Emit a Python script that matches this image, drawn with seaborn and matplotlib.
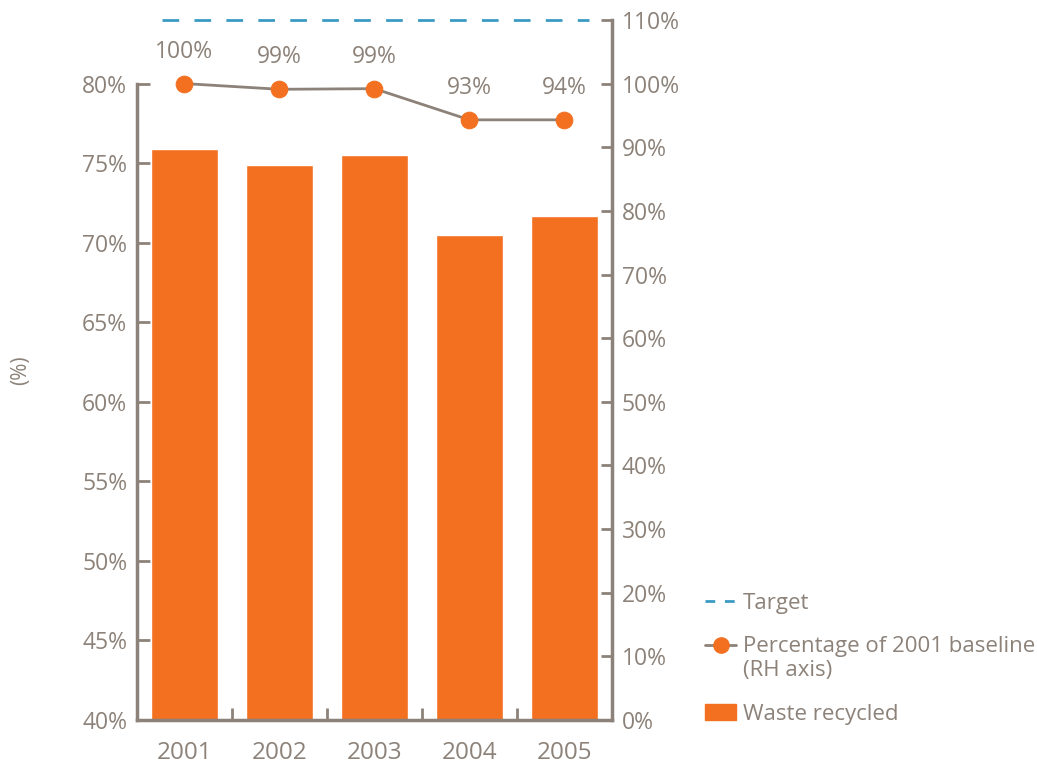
import matplotlib
matplotlib.use("Agg")
import matplotlib.pyplot as plt
import numpy as np
import pandas as pd
import seaborn as sns
from matplotlib.lines import Line2D
from matplotlib.patches import Patch

years = ["2001", "2002", "2003", "2004", "2005"]
waste_recycled = [75.9, 74.9, 75.5, 70.5, 71.7]
baseline_pct = [100.0, 99.1, 99.2, 94.3, 94.3]
baseline_labels = ["100%", "99%", "99%", "93%", "94%"]
target = 110
left_ticks = [40, 45, 50, 55, 60, 65, 70, 75, 80]
right_ticks = [0, 10, 20, 30, 40, 50, 60, 70, 80, 90, 100, 110]

ORANGE = "#f37021"
GREY = "#8c8279"
BLUE = "#3a9ac4"

sns.set_theme(style="white")
plt.rcParams["font.family"] = ["Open Sans", "DejaVu Sans"]
plt.rcParams["text.color"] = GREY

df = pd.DataFrame({"year": years, "waste": waste_recycled, "baseline": baseline_pct})
pos = np.arange(len(years))

fig = plt.figure(figsize=(10.37, 7.66), dpi=100)
ax = fig.add_axes([0.132, 0.060, 0.458, 0.914])

sns.barplot(data=df, x="year", y="waste", color=ORANGE, saturation=1, width=0.7, ax=ax)
ax.set_xlim(-0.5, 4.5)
ax.set_ylim(40, 84)
ax.set_yticks(left_ticks)
ax.set_yticklabels([f"{t}%" for t in left_ticks])
ax.set_xlabel("")
ax.set_ylabel("(%)", color=GREY, fontsize=15)
ax.yaxis.set_label_coords(-0.222, 0.5)
ax.set_xticks(pos)
ax.set_xticklabels(years)
ax.set_xticks(pos[:-1] + 0.5, minor=True)
ax.tick_params(axis="x", which="major", length=0, labelsize=17.5, labelcolor=GREY, pad=15)
ax.tick_params(axis="x", which="minor", direction="in", length=9, width=2, color=GREY, bottom=True)
ax.tick_params(axis="y", direction="in", length=9, width=2, color=GREY, labelsize=16.5, labelcolor=GREY, left=True, pad=7)
for side in ["top", "right"]:
    ax.spines[side].set_visible(False)
for side in ["left", "bottom"]:
    ax.spines[side].set_color(GREY)
    ax.spines[side].set_linewidth(2.5)
ax.spines["left"].set_bounds(40, 80)

ax2 = ax.twinx()
sns.lineplot(x=pos, y=baseline_pct, ax=ax2, color=GREY, linewidth=2, marker="o",
             markersize=12, markerfacecolor=ORANGE, markeredgecolor=ORANGE)
ax2.plot([-0.24, 4.26], [target, target], color=BLUE, linestyle=(0, (6, 5.5)), linewidth=2, clip_on=False)
for x, y, lab in zip(pos, baseline_pct, baseline_labels):
    ax2.annotate(lab, (x, y), xytext=(0, 23), textcoords="offset points", ha="center",
                 va="center", fontsize=16.5, color=GREY)
ax2.set_ylim(0, 110)
ax2.set_yticks(right_ticks)
ax2.set_yticklabels([f"{t}%" for t in right_ticks])
ax2.tick_params(axis="y", direction="in", length=8, width=2, color=GREY, labelsize=16.5, labelcolor=GREY, right=True, pad=7)
for side in ["top", "left", "bottom"]:
    ax2.spines[side].set_visible(False)
ax2.spines["right"].set_color(GREY)
ax2.spines["right"].set_linewidth(2.5)
ax2.set_xlim(-0.5, 4.5)

handles = [
    Line2D([], [], color=BLUE, linestyle=(0, (3.5, 3.5)), linewidth=2),
    Line2D([], [], color=GREY, linewidth=2, marker="o", markersize=11,
           markerfacecolor=ORANGE, markeredgecolor=ORANGE),
    Patch(facecolor=ORANGE, edgecolor=ORANGE),
]
labels = ["Target", "Percentage of 2001 baseline\n(RH axis)", "Waste recycled"]
leg = fig.legend(handles, labels, loc="upper left", bbox_to_anchor=(0.68, 0.226), frameon=False,
                 fontsize=16, labelcolor=GREY, handlelength=1.4, handletextpad=0.3, labelspacing=1.0,
                 borderpad=0, borderaxespad=0)
# keep the baseline marker level with the first line of its two-line label
leg.legend_handles[1].set_transform(
    leg.legend_handles[1].get_transform() + matplotlib.transforms.ScaledTranslation(0, 10 / 72, fig.dpi_scale_trans)
)

fig.savefig("out.png", dpi=100)
